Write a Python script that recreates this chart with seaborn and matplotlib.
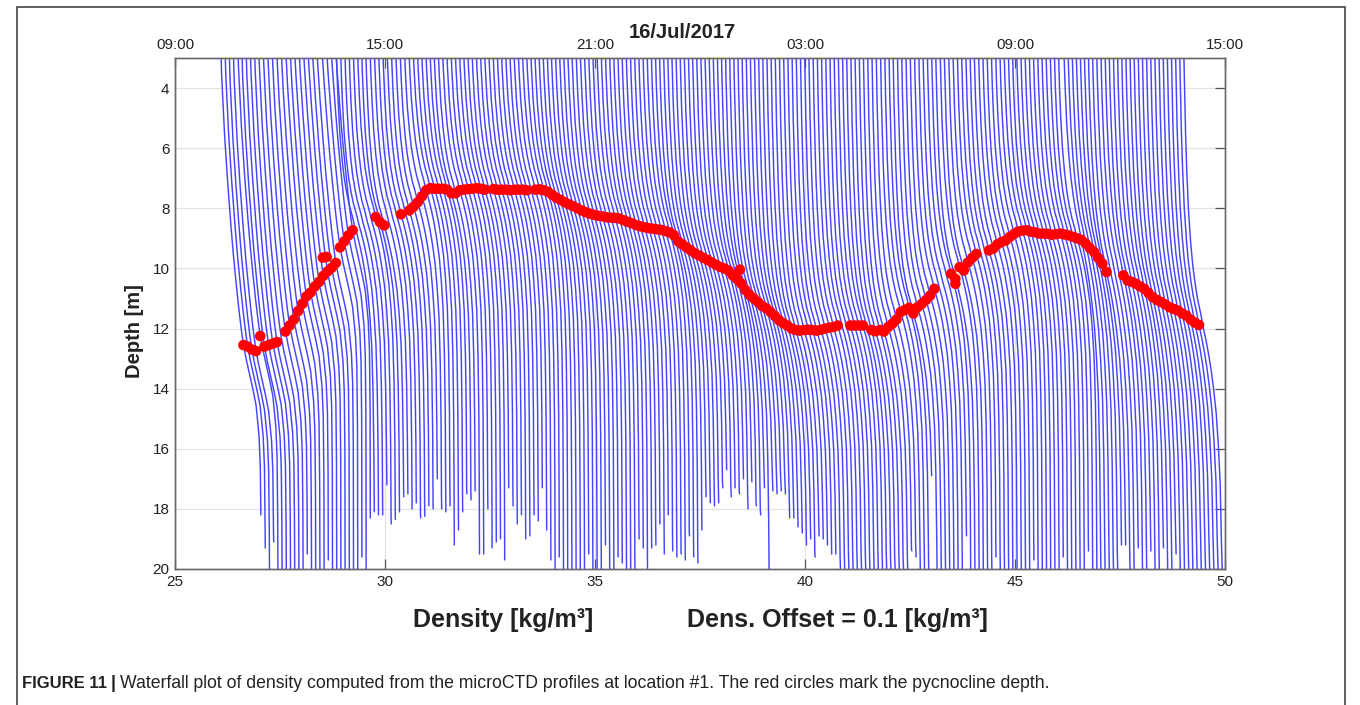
import numpy as np
import pandas as pd
import matplotlib
matplotlib.use("Agg")
import matplotlib.pyplot as plt
from matplotlib.patches import Rectangle
import seaborn as sns

# ---------------- data ----------------
FIRST_DENSITY = 26.05      # surface-ish density of first profile [kg/m3]
DENS_OFFSET = 0.1          # waterfall offset between profiles [kg/m3]
DENSITY_JUMP = 1.0         # density increase through the water column [kg/m3]

# pycnocline depth (m) of each of the 230 profiles (red circles)
PYC_DEPTH = [
    12.55, 12.6, 12.7, 12.75, 12.25, 12.6, 12.55, 12.5, 12.45, 12.3,
    12.1, 11.9, 11.7, 11.42, 11.18, 10.93, 10.8, 10.6, 10.45, 10.25,
    10.1, 9.98, 9.82, 9.3, 9.1, 8.9, 8.73, 8.6, 8.55, 8.5,
    8.45, 8.4, 8.29, 8.46, 8.57, 8.4, 8.3, 8.25, 8.2, 8.12,
    8.07, 7.95, 7.8, 7.6, 7.4, 7.33, 7.35, 7.35, 7.35, 7.38,
    7.5, 7.5, 7.4, 7.38, 7.36, 7.35, 7.33, 7.35, 7.38, 7.4,
    7.36, 7.38, 7.38, 7.38, 7.4, 7.38, 7.38, 7.38, 7.4, 7.4,
    7.38, 7.37, 7.4, 7.45, 7.55, 7.65, 7.72, 7.8, 7.87, 7.93,
    8.0, 8.07, 8.13, 8.18, 8.22, 8.25, 8.27, 8.3, 8.31, 8.32,
    8.34, 8.4, 8.45, 8.5, 8.56, 8.6, 8.63, 8.66, 8.68, 8.7,
    8.72, 8.76, 8.8, 8.9, 9.1, 9.2, 9.3, 9.4, 9.5, 9.57,
    9.65, 9.72, 9.8, 9.88, 9.95, 10.0, 10.07, 10.23, 10.35, 10.5,
    10.72, 10.88, 11.0, 11.12, 11.25, 11.33, 11.45, 11.58, 11.72, 11.82,
    11.9, 12.0, 12.05, 12.07, 12.05, 12.04, 12.05, 12.07, 12.04, 12.0,
    11.97, 11.95, 11.9, 11.9, 11.9, 11.9, 11.9, 11.9, 11.9, 12.0,
    12.05, 12.09, 12.05, 12.1, 11.95, 11.84, 11.7, 11.45, 11.38, 11.31,
    11.5, 11.29, 11.18, 11.05, 10.9, 10.68, 10.55, 10.45, 10.3, 10.18,
    10.35, 9.96, 10.07, 9.8, 9.65, 9.52, 9.47, 9.43, 9.4, 9.34,
    9.2, 9.12, 9.07, 8.95, 8.85, 8.77, 8.74, 8.73, 8.78, 8.8,
    8.84, 8.84, 8.85, 8.88, 8.86, 8.84, 8.87, 8.9, 8.95, 9.0,
    9.05, 9.17, 9.32, 9.45, 9.65, 9.84, 10.12, 10.15, 10.18, 10.2,
    10.23, 10.4, 10.45, 10.51, 10.6, 10.68, 10.82, 10.96, 11.05, 11.12,
    11.2, 11.29, 11.35, 11.4, 11.5, 11.57, 11.7, 11.8, 11.88, 11.95,
]
# profiles without a red circle
NO_DOT = [9, 27, 28, 29, 30, 31, 35, 36, 37, 39, 59, 69, 143, 144, 149,
          166, 167, 168, 176, 177, 207, 208, 209, 229]
# a few extra circles off the main track
EXTRA_DOT_DENSITY = [28.52, 28.61, 38.45, 43.58]
EXTRA_DOT_DEPTH = [9.64, 9.62, 10.04, 10.51]

# deepest sample (m) of each profile
BOTTOM_DEPTH = [
    18.2, 19.3, 20, 19.1, 20, 20, 20, 20, 20, 20,
    20, 19.5, 20, 20, 20, 20, 19.7, 20, 20, 20,
    20, 20, 20, 20, 19.6, 20, 18.3, 18.1, 18.2, 18.2,
    17.2, 18.5, 18.35, 18.1, 17.6, 17.5, 18.0, 17.8, 18.3, 18.25,
    17.9, 18.0, 17.0, 18.0, 18.1, 17.9, 19.2, 18.7, 18.1, 17.5,
    17.7, 17.4, 19.5, 19.5, 18.0, 19.3, 19.1, 19.0, 19.7, 17.3,
    17.9, 18.5, 18.2, 19.0, 18.9, 18.2, 18.4, 17.3, 18.7, 19.7,
    20, 19.6, 20, 20, 20, 20, 20, 20, 19.5, 20,
    20, 20, 19.2, 20, 20, 19.6, 19.8, 20, 20, 20,
    19.0, 19.3, 20, 19.3, 19.2, 18.5, 19.5, 18.2, 19.4, 19.6,
    19.5, 19.7, 18.9, 19.6, 19.8, 18.7, 17.6, 17.8, 17.9, 17.8,
    17.3, 16.7, 17.6, 17.3, 17.5, 17.0, 18.0, 17.1, 17.9, 18.2,
    17.3, 20, 17.4, 17.5, 17.4, 17.5, 18.3, 18.3, 18.6, 18.8,
    19.2, 19.0, 19.6, 18.9, 19.0, 19.2, 19.5, 19.5, 20, 20,
    20, 20, 20, 20, 20, 20, 20, 20, 20, 20,
    20, 20, 20, 20, 20, 19.4, 19.6, 20, 20, 20,
    16.9, 20, 20, 20, 20, 20, 20, 20, 18.9, 20,
    20, 20, 20, 20, 20, 19.6, 20, 20, 20, 20,
    20, 20, 20, 20, 19.7, 20, 20, 20, 20, 20,
    20, 19.6, 20, 20, 20, 20, 20, 19.4, 20, 20,
    20, 20, 20, 20, 20, 19.2, 19.2, 20, 20, 19.3,
    20, 20, 19.4, 20, 20, 19.3, 20, 20, 19.5, 20,
    20, 20, 20, 20, 20, 20, 20, 20, 20, 20,
]

# profile shape: depth relative to pycnocline (m) -> fraction of density jump
SHAPE_LEFT_REL = [-14, -11, -9, -7, -5.5, -4, -3, -2, -1.2, -0.5, 0, 0.5, 1,
                  1.5, 2, 3, 4, 6, 10, 14]
SHAPE_LEFT_FRAC = [0.0, 0.02, 0.06, 0.13, 0.2, 0.28, 0.34, 0.41, 0.47, 0.53,
                   0.58, 0.65, 0.73, 0.81, 0.88, 0.95, 0.98, 0.995, 1.0, 1.0]
SHAPE_MID_REL = [-14, -10, -7, -5, -4, -3, -2.2, -1.6, -1.1, -0.7, -0.35, 0,
                 0.35, 0.7, 1.1, 1.6, 2.2, 3, 4, 5.5, 7.5, 10, 14]
SHAPE_MID_FRAC = [0.0, 0.03, 0.07, 0.11, 0.14, 0.18, 0.23, 0.28, 0.34, 0.40,
                  0.47, 0.53, 0.60, 0.66, 0.72, 0.78, 0.84, 0.89, 0.935, 0.965,
                  0.985, 0.995, 1.0]
LEFT_SHAPE_UNTIL = 27       # profiles 0..26 use the left shape
RIGHT_STRETCH_FROM = 200    # profiles from here have a thicker pycnocline
RIGHT_STRETCH = 1.3

X_TICKS = [25, 30, 35, 40, 45, 50]
TIME_LABELS = ["09:00", "15:00", "21:00", "03:00", "09:00", "15:00"]
DEPTH_TICKS = [4, 6, 8, 10, 12, 14, 16, 18, 20]
TOP_DEPTH, MAX_DEPTH = 3, 20

# ---------------- build long table ----------------
rows = []
dot_x, dot_y = [], []
for i, (zp, zb) in enumerate(zip(PYC_DEPTH, BOTTOM_DEPTH)):
    off = FIRST_DENSITY + i * DENS_OFFSET
    if i < LEFT_SHAPE_UNTIL:
        rel, frac, st = SHAPE_LEFT_REL, SHAPE_LEFT_FRAC, 1.0
    else:
        rel, frac = SHAPE_MID_REL, SHAPE_MID_FRAC
        st = RIGHT_STRETCH if i >= RIGHT_STRETCH_FROM else 1.0
    depths = [zp + r * st for r in rel]
    pts = []
    for k, (d, f) in enumerate(zip(depths, frac)):
        if d < TOP_DEPTH and k + 1 < len(depths) and depths[k + 1] < TOP_DEPTH:
            continue
        if d > zb:
            pts.append((zb, f))
            break
        pts.append((d, f))
    for order, (d, f) in enumerate(pts):
        rows.append((i, order, off + DENSITY_JUMP * f, d))
    if i not in NO_DOT:
        dot_x.append(off + DENSITY_JUMP * frac[rel.index(0)])
        dot_y.append(zp)
df = pd.DataFrame(rows, columns=["profile", "order", "density", "depth"])
dots = pd.DataFrame({"density": dot_x + EXTRA_DOT_DENSITY,
                     "depth": dot_y + EXTRA_DOT_DEPTH})
n_prof = len(PYC_DEPTH)

# ---------------- plot ----------------
sns.set_style("white")
plt.rcParams["font.family"] = ["Liberation Sans", "DejaVu Sans"]
W, H = 1360, 705
fig = plt.figure(figsize=(W / 100, H / 100), dpi=100)
ax = fig.add_axes([175 / W, 1 - 569 / H, 1050 / W, 511 / H])

sns.lineplot(data=df, x="density", y="depth", hue="profile",
             palette=["#4545ff"] * n_prof, estimator=None, sort=False,
             lw=1.05, snap=False, antialiased=True, ax=ax, legend=False)
sns.scatterplot(data=dots, x="density", y="depth", color="#ff0000", s=58,
                edgecolor="none", ax=ax, zorder=5, legend=False)

ax.set_xlim(25, 50)
ax.set_ylim(MAX_DEPTH, TOP_DEPTH)
ax.set_xticks(X_TICKS)
ax.set_yticks(DEPTH_TICKS)
ax.set_xticklabels([str(t) for t in X_TICKS], fontsize=11, color="#222222")
ax.set_yticklabels([str(t) for t in DEPTH_TICKS], fontsize=11, color="#222222")
ax.grid(True, color="#e3e3e3", lw=0.9)
ax.set_axisbelow(True)
ax.tick_params(direction="in", length=7, width=0.9, color="#555555",
               right=True, top=False, pad=4)
for s in ax.spines.values():
    s.set_color("#6a6a6a")
    s.set_linewidth(1.0)
ax.set_xlabel("")
ax.set_ylabel("Depth [m]", fontsize=14.5, fontweight="bold", color="#222222")
ax.yaxis.set_label_coords(-0.0295, 0.466)

ax2 = ax.twiny()
ax2.set_xlim(25, 50)
ax2.set_xticks(X_TICKS)
ax2.set_xticklabels(TIME_LABELS, fontsize=11, color="#222222")
ax2.tick_params(direction="in", length=7, width=0.9, color="#555555", pad=4)
for s in ax2.spines.values():
    s.set_color("#6a6a6a")
    s.set_linewidth(1.0)

fig.text(682 / W, 1 - 32 / H, "16/Jul/2017", ha="center", va="center",
         fontsize=14.5, fontweight="bold", color="#222222")
fig.text(503 / W, 1 - 620 / H, "Density [kg/m³]", ha="center", va="center",
         fontsize=18, fontweight="bold", color="#222222")
fig.text(837 / W, 1 - 620 / H, "Dens. Offset = 0.1 [kg/m³]", ha="center",
         va="center", fontsize=18, fontweight="bold", color="#222222")

# outer frame
fig.patches.append(Rectangle((17 / W, -0.02), (1345 - 17) / W, 1.02 - 7 / H,
                             transform=fig.transFigure, fill=False,
                             edgecolor="#444444", lw=1.2))

# caption
cap_fam = ["Liberation Sans Narrow", "Liberation Sans", "DejaVu Sans"]
t1 = fig.text(22 / W, 1 - 684 / H, "FIGURE 11", fontsize=12,
              fontweight="bold", va="center", color="#222222", family=cap_fam)
fig.canvas.draw()
r = fig.canvas.get_renderer()
bb = t1.get_window_extent(r)
t2 = fig.text((bb.x1 + 4) / W, 1 - 684 / H, "|", fontsize=13,
              fontweight="bold", va="center", color="#222222", family=cap_fam)
bb2 = t2.get_window_extent(r)
fig.text((bb2.x1 + 4) / W, 1 - 684 / H,
         "Waterfall plot of density computed from the microCTD profiles at "
         "location #1. The red circles mark the pycnocline depth.",
         fontsize=12.7, va="center", color="#222222", family=cap_fam)

fig.savefig("out.png", dpi=100)
